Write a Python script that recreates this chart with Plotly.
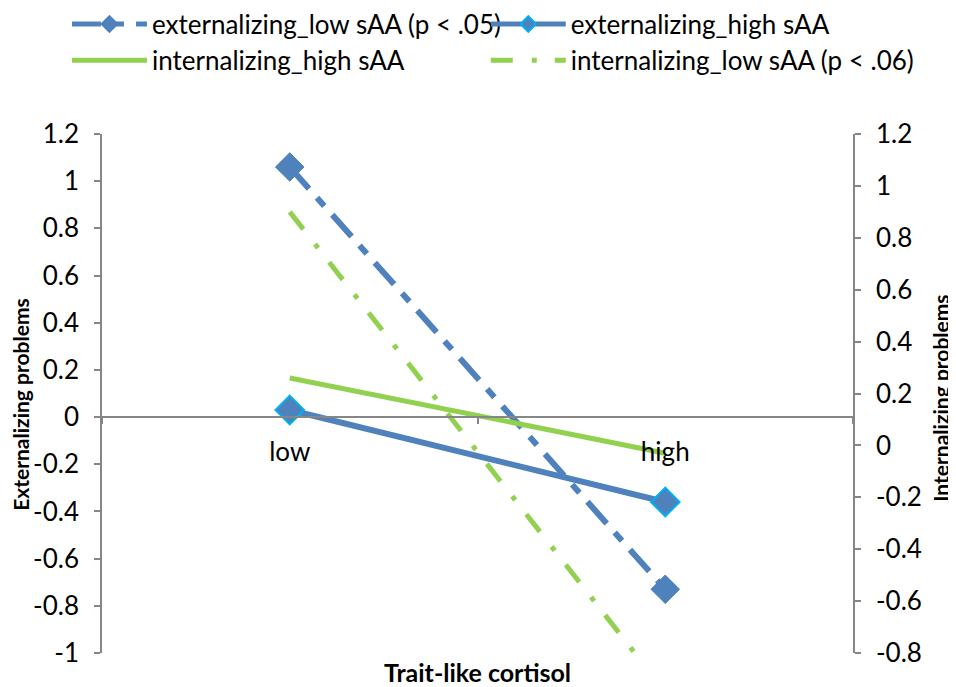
import plotly.graph_objects as go

categories = ["low", "high"]
ext_low = [1.06, -0.73]
ext_high = [0.03, -0.36]
int_high = [0.26, -0.03]
int_low = [0.90, -0.95]

series_names = [
    "externalizing_low sAA (p < .05)",
    "externalizing_high sAA",
    "internalizing_high sAA",
    "internalizing_low sAA (p < .06)",
]

left_tickvals = [-1.0, -0.8, -0.6, -0.4, -0.2, 0.0, 0.2, 0.4, 0.6, 0.8, 1.0, 1.2]
left_ticktext = ["-1", "-0.8", "-0.6", "-0.4", "-0.2", "0", "0.2", "0.4", "0.6", "0.8", "1", "1.2"]
right_tickvals = [-0.8, -0.6, -0.4, -0.2, 0.0, 0.2, 0.4, 0.6, 0.8, 1.0, 1.2]
right_ticktext = ["-0.8", "-0.6", "-0.4", "-0.2", "0", "0.2", "0.4", "0.6", "0.8", "1", "1.2"]

x_title = "Trait-like cortisol"
y_title = "Externalizing problems"
y2_title = "Internalizing problems"

BLUE = "#4F81BD"
CYAN = "#00B0F0"
GREEN = "#92D050"
GRAY = "#868686"
FONT = "Lato, 'Open Sans', sans-serif"
TXT = 26

fig = go.Figure()
fig.add_trace(go.Scatter(
    x=categories, y=ext_low, name=series_names[0], mode="lines+markers",
    line=dict(color=BLUE, width=6, dash="29px,12px,11px,12px"),
    marker=dict(symbol="diamond", size=22, color=BLUE, line=dict(color=BLUE, width=1)),
    yaxis="y", legend="legend"))
fig.add_trace(go.Scatter(
    x=categories, y=ext_high, name=series_names[1], mode="lines+markers",
    line=dict(color=BLUE, width=6),
    marker=dict(symbol="diamond", size=22, color=BLUE, line=dict(color=CYAN, width=2)),
    yaxis="y", legend="legend2"))
fig.add_trace(go.Scatter(
    x=categories, y=int_high, name=series_names[2], mode="lines",
    line=dict(color=GREEN, width=5),
    yaxis="y2", legend="legend3"))
fig.add_trace(go.Scatter(
    x=categories, y=int_low, name=series_names[3], mode="lines",
    line=dict(color=GREEN, width=5, dash="22px,19px,5px,18px"),
    yaxis="y2", legend="legend4"))

legend_common = dict(
    orientation="h", xref="container", yref="paper",
    xanchor="left", yanchor="top", font=dict(family=FONT, size=TXT, color="black"),
    itemwidth=75, itemsizing="constant", bgcolor="rgba(0,0,0,0)",
)

fig.update_layout(
    width=948, height=679,
    margin=dict(l=94, r=103, t=126, b=34, autoexpand=False),
    paper_bgcolor="white", plot_bgcolor="white",
    font=dict(family=FONT, size=TXT, color="black"),
    showlegend=True,
    legend=dict(x=0.0622, y=1.257, **legend_common),
    legend2=dict(x=0.504, y=1.257, **legend_common),
    legend3=dict(x=0.0622, y=1.187, **legend_common),
    legend4=dict(x=0.504, y=1.187, **legend_common),
    xaxis=dict(
        type="category", range=[-0.5, 1.5], anchor="free", position=1 / 2.2,
        showline=True, linecolor=GRAY, linewidth=1.5, showgrid=False, zeroline=False,
        ticks="outside", tickson="boundaries", ticklen=6, tickcolor=GRAY, tickwidth=1.5,
        ticklabelstandoff=12, tickfont=dict(family=FONT, size=TXT, color="black"),
        title=dict(text="<b>" + x_title + "</b>", standoff=200,
                   font=dict(family=FONT, size=25, color="black")),
    ),
    yaxis=dict(
        range=[-1.0, 1.2], tickvals=left_tickvals, ticktext=left_ticktext,
        showline=True, linecolor=GRAY, linewidth=1.5, showgrid=False, zeroline=False,
        ticks="outside", ticklen=6, tickcolor=GRAY, tickwidth=1.5, ticklabelstandoff=10,
        tickfont=dict(family=FONT, size=TXT, color="black"),
    ),
    yaxis2=dict(
        range=[-0.8, 1.2], tickvals=right_tickvals, ticktext=right_ticktext,
        overlaying="y", side="right", anchor="x",
        showline=True, linecolor=GRAY, linewidth=1.5, showgrid=False, zeroline=False,
        ticks="outside", ticklen=6, tickcolor=GRAY, tickwidth=1.5, ticklabelstandoff=10,
        tickfont=dict(family=FONT, size=TXT, color="black"),
    ),
    annotations=[
        dict(text="<b>" + y_title + "</b>", xref="paper", yref="paper",
             x=-0.1079, y=0.48, textangle=-90, showarrow=False,
             xanchor="center", yanchor="middle",
             font=dict(family=FONT, size=21, color="black")),
        dict(text="<b>" + y2_title + "</b>", xref="paper", yref="paper",
             x=1.1172, y=0.49, textangle=-90, showarrow=False,
             xanchor="center", yanchor="middle",
             font=dict(family=FONT, size=21, color="black")),
    ],
)

fig.write_html("out.html")
